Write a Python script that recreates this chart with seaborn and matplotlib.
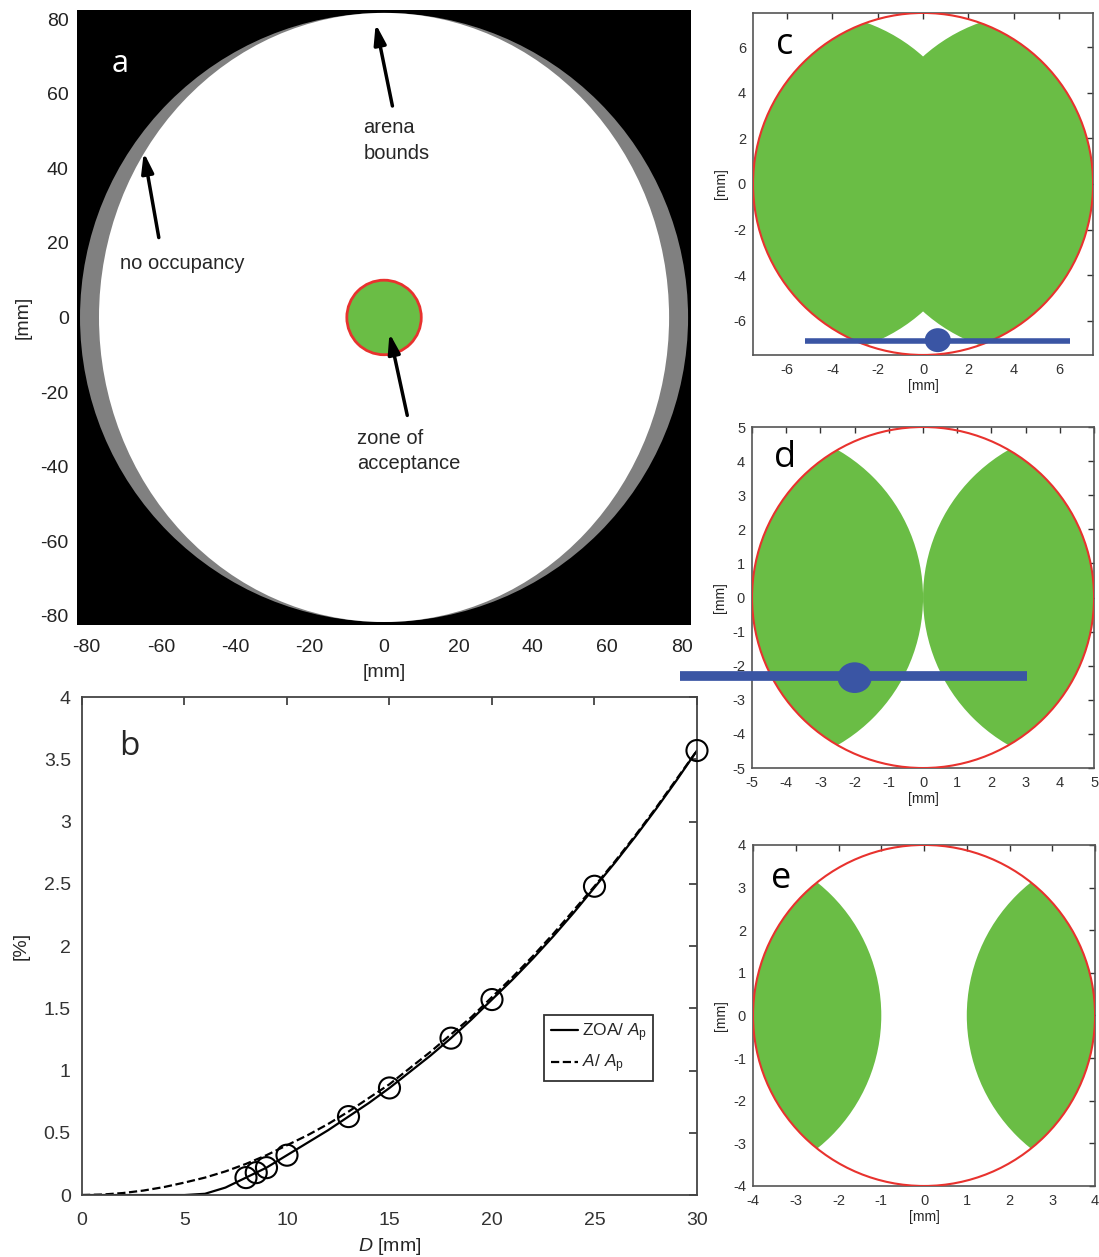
import numpy as np
import pandas as pd
import matplotlib
matplotlib.use("Agg")
import matplotlib.pyplot as plt
import seaborn as sns
from matplotlib.patches import Circle, Ellipse

# panel a: arena picture (mm)
arena_outer_r = 81.7
free_ellipse_ax = (76.6, 81.7)
zoa_r = 10.0
arena_lim = 82.5

# panel b: fraction of arena (%)
d_marks = [8, 8.5, 9, 10, 13, 15, 18, 20, 25, 30]
zoa_marks = [0.14, 0.18, 0.22, 0.32, 0.63, 0.86, 1.26, 1.57, 2.48, 3.57]
d_curve = list(range(0, 31))
zoa_curve = [0, 0, 0, 0, 0, 0, 0.01, 0.06, 0.14, 0.22, 0.32, 0.42, 0.52, 0.63, 0.74, 0.86,
             0.99, 1.12, 1.26, 1.41, 1.57, 1.73, 1.90, 2.08, 2.27, 2.47, 2.67, 2.88, 3.10, 3.33, 3.57]
a_curve = [0, 0.004, 0.016, 0.036, 0.064, 0.10, 0.14, 0.19, 0.25, 0.32, 0.40, 0.48, 0.57, 0.67,
           0.78, 0.89, 1.02, 1.15, 1.29, 1.43, 1.59, 1.75, 1.92, 2.10, 2.29, 2.48, 2.68, 2.89,
           3.11, 3.34, 3.57]

# panels c-e: zone radius, lobe centre offset, rod position
zone_labels = ["c", "d", "e"]
zone_r = [7.5, 5.0, 4.0]
lobe_r = [7.5, 5.0, 4.0]
lobe_offset = [5.0, 5.0, 5.0]
zone_ticks = [[-6, -4, -2, 0, 2, 4, 6], list(range(-5, 6)), list(range(-4, 5))]
rod_x = [(-5.2, 6.5), (-7.1, 3.05), None]
rod_y = [-6.9, -2.3, None]
dot_xy = [(0.65, -6.85), (-2.0, -2.35), None]
dot_wh = [(1.15, 1.05), (1.0, 0.9), None]
label_xy = [(0.094, 0.905), (0.096, 0.91), (0.082, 0.9)]

GREEN = "#6abd45"
RED = "#e8322e"
BLUE = "#3a55a4"
GRAY = "#808080"

sns.set_theme(style="white")
plt.rcParams["font.family"] = ["Liberation Sans", "DejaVu Sans"]
plt.rcParams["axes.unicode_minus"] = False
plt.rcParams["mathtext.fontset"] = "custom"
plt.rcParams["mathtext.it"] = "Liberation Sans:italic"
plt.rcParams["mathtext.rm"] = "Liberation Sans"

fig = plt.figure(figsize=(10.99, 12.57), dpi=100)

# ---------------- panel a
ax = fig.add_axes([0.0701, 0.5028, 0.5587, 0.4893])
ax.set_facecolor("black")
ax.add_patch(Circle((0, 0), arena_outer_r, facecolor=GRAY, edgecolor="none"))
ax.add_patch(Ellipse((0, 0), 2 * free_ellipse_ax[0], 2 * free_ellipse_ax[1],
                     facecolor="white", edgecolor="none"))
ax.add_patch(Circle((0, 0), zoa_r, facecolor=GREEN, edgecolor=RED, lw=2))
ax.set_xlim(-arena_lim, arena_lim)
ax.set_ylim(-arena_lim, arena_lim)
ticks_a = list(range(-80, 81, 20))
ax.set_xticks(ticks_a)
ax.set_yticks(ticks_a)
ax.tick_params(axis="x", pad=10)
ax.tick_params(axis="y", pad=6)
ax.tick_params(labelsize=14, length=0, colors="#222222")
for s in ax.spines.values():
    s.set_visible(False)
ax.set_xlabel("[mm]", fontsize=14, labelpad=6)
ax.set_ylabel("[mm]", fontsize=14, labelpad=6)
ax.text(-71, 68, "a", color="white", fontsize=22, family="Open Sans", ha="center", va="center")
arrow = dict(arrowstyle="-|>,head_width=0.3,head_length=1.0", color="black", lw=2.5)
ax.annotate("", xy=(-2.4, 79.5), xytext=(2.4, 56), arrowprops=arrow)
ax.text(-5.6, 47.5, "arena\nbounds", fontsize=14.5, ha="left", va="center", linespacing=1.45)
ax.annotate("", xy=(-64.7, 45), xytext=(-60.4, 20.7), arrowprops=arrow)
ax.text(-71, 14.5, "no occupancy", fontsize=14.5, ha="left", va="center")
ax.annotate("", xy=(1.3, -3.5), xytext=(6.4, -27), arrowprops=arrow)
ax.text(-7.2, -35.8, "zone of\nacceptance", fontsize=14.5, ha="left", va="center", linespacing=1.45)

# ---------------- panel b
axb = fig.add_axes([0.0746, 0.0493, 0.5596, 0.3962])
curves = pd.DataFrame({"D": d_curve, "zoa": zoa_curve, "a": a_curve})
marks = pd.DataFrame({"D": d_marks, "zoa": zoa_marks})
sns.lineplot(data=curves, x="D", y="zoa", ax=axb, color="black", lw=1.6,
             label="ZOA/ $A_\\mathrm{p}$")
sns.lineplot(data=curves, x="D", y="a", ax=axb, color="black", lw=1.6, ls="--",
             label="$A$/ $A_\\mathrm{p}$")
sns.scatterplot(data=marks, x="D", y="zoa", ax=axb, marker="o", s=230,
                facecolor="none", edgecolor="black", linewidth=1.5, zorder=5, clip_on=False)
axb.set_xlim(0, 30)
axb.set_ylim(0, 4)
axb.set_xticks(range(0, 31, 5))
axb.set_yticks([0, 0.5, 1, 1.5, 2, 2.5, 3, 3.5, 4])
axb.set_yticklabels(["0", "0.5", "1", "1.5", "2", "2.5", "3", "3.5", "4"])
axb.tick_params(direction="in", length=6, width=1.2, labelsize=14, colors="#333333",
                top=True, right=True)
axb.tick_params(axis="x", pad=12)
axb.tick_params(axis="y", pad=8)
for s in axb.spines.values():
    s.set_color("#444444")
    s.set_linewidth(1.3)
axb.set_xlabel("$D$ [mm]", fontsize=14, labelpad=5)
axb.set_ylabel("[%]", fontsize=14, labelpad=10)
axb.text(2.3, 3.6, "b", fontsize=24, family="Open Sans", ha="center", va="center")
leg = axb.legend(loc="lower left", bbox_to_anchor=(0.752, 0.228), fontsize=12.5,
                 handlelength=1.6, handletextpad=0.2, borderpad=0.35, labelspacing=0.5,
                 fancybox=False, framealpha=1, borderaxespad=0)
leg.get_frame().set_edgecolor("#333333")
leg.get_frame().set_linewidth(1.3)

# ---------------- panels c, d, e
pos = [[0.6852, 0.7176, 0.3094, 0.2721],
       [0.6843, 0.3890, 0.3112, 0.2713],
       [0.6852, 0.0565, 0.3112, 0.2713]]
for i in range(3):
    axz = fig.add_axes(pos[i])
    r = zone_r[i]
    clip = Circle((0, 0), r, transform=axz.transData)
    for sgn in (-1, 1):
        lobe = Circle((sgn * lobe_offset[i], 0), lobe_r[i], facecolor=GREEN, edgecolor="none")
        axz.add_patch(lobe)
        lobe.set_clip_path(clip)
    axz.add_patch(Circle((0, 0), r, facecolor="none", edgecolor=RED, lw=1.5, zorder=3))
    if rod_x[i] is not None:
        lw = 4 if i == 0 else 7
        axz.plot(rod_x[i], [rod_y[i], rod_y[i]], color=BLUE, lw=lw, clip_on=False,
                 solid_capstyle="butt", zorder=4)
        axz.add_patch(Ellipse(dot_xy[i], dot_wh[i][0], dot_wh[i][1], facecolor=BLUE,
                              edgecolor="none", zorder=5, clip_on=False))
    axz.set_xlim(-r, r)
    axz.set_ylim(-r, r)
    axz.set_xticks(zone_ticks[i])
    axz.set_yticks(zone_ticks[i])
    axz.tick_params(direction="in", length=4, width=1, labelsize=10.5, colors="#333333",
                    top=True, right=True)
    axz.tick_params(axis="x", pad=6)
    axz.tick_params(axis="y", pad=5)
    for s in axz.spines.values():
        s.set_color("#555555")
        s.set_linewidth(1.2)
    axz.set_xlabel("[mm]", fontsize=10, labelpad=1)
    axz.set_ylabel("[mm]", fontsize=10, labelpad=4)
    axz.text(label_xy[i][0], label_xy[i][1], zone_labels[i], transform=axz.transAxes,
             fontsize=26, family="Open Sans", ha="center", va="center", color="black")

fig.savefig("out.png", dpi=100)
